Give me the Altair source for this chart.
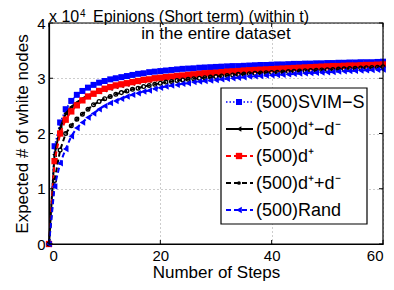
import altair as alt
import pandas as pd

# ---------------- data ----------------
steps = list(range(61))

svim_s = [0, 1.77, 2.20, 2.44, 2.59, 2.70, 2.77, 2.83, 2.88, 2.92, 2.95,
          2.98, 3.00, 3.02, 3.04, 3.06, 3.08, 3.09, 3.11, 3.12, 3.13,
          3.14, 3.15, 3.16, 3.17, 3.175, 3.18, 3.19, 3.195, 3.20, 3.205,
          3.21, 3.215, 3.22, 3.22, 3.225, 3.23, 3.235, 3.24, 3.24, 3.245,
          3.25, 3.25, 3.255, 3.26, 3.26, 3.265, 3.265, 3.27, 3.27, 3.275,
          3.275, 3.28, 3.28, 3.285, 3.285, 3.29, 3.29, 3.29, 3.295, 3.30]

d_plus_minus = [0, 1.62, 2.10, 2.36, 2.48, 2.56, 2.63, 2.68, 2.72, 2.76, 2.79,
                2.82, 2.85, 2.87, 2.89, 2.91, 2.93, 2.95, 2.96, 2.98, 2.99,
                3.00, 3.01, 3.02, 3.03, 3.04, 3.05, 3.06, 3.07, 3.08, 3.085,
                3.09, 3.10, 3.105, 3.11, 3.12, 3.125, 3.13, 3.135, 3.14, 3.15,
                3.155, 3.16, 3.165, 3.17, 3.175, 3.18, 3.185, 3.19, 3.195, 3.20,
                3.205, 3.21, 3.21, 3.215, 3.22, 3.225, 3.23, 3.23, 3.235, 3.24]

d_plus = [0, 1.50, 2.00, 2.25, 2.40, 2.51, 2.60, 2.67, 2.72, 2.77, 2.81,
          2.84, 2.87, 2.89, 2.91, 2.93, 2.95, 2.97, 2.98, 3.00, 3.01,
          3.02, 3.03, 3.04, 3.05, 3.06, 3.07, 3.08, 3.09, 3.095, 3.10,
          3.11, 3.12, 3.125, 3.13, 3.14, 3.145, 3.15, 3.155, 3.16, 3.165,
          3.17, 3.175, 3.18, 3.185, 3.19, 3.195, 3.20, 3.205, 3.21, 3.215,
          3.22, 3.22, 3.225, 3.23, 3.23, 3.235, 3.24, 3.24, 3.245, 3.25]

d_plus_plus = [0, 1.15, 1.70, 2.00, 2.14, 2.26, 2.35, 2.44, 2.52, 2.58, 2.63,
               2.67, 2.71, 2.74, 2.77, 2.80, 2.82, 2.85, 2.87, 2.89, 2.91,
               2.93, 2.94, 2.96, 2.97, 2.98, 2.99, 3.00, 3.01, 3.02, 3.03,
               3.04, 3.05, 3.06, 3.07, 3.075, 3.08, 3.09, 3.095, 3.10, 3.105,
               3.11, 3.115, 3.12, 3.125, 3.13, 3.135, 3.14, 3.145, 3.15, 3.155,
               3.16, 3.165, 3.17, 3.175, 3.18, 3.185, 3.19, 3.195, 3.20, 3.21]

rand = [0, 1.04, 1.46, 1.72, 1.95, 2.10, 2.20, 2.29, 2.36, 2.44, 2.50,
        2.55, 2.59, 2.63, 2.67, 2.70, 2.73, 2.76, 2.78, 2.81, 2.83,
        2.85, 2.87, 2.88, 2.90, 2.91, 2.93, 2.94, 2.95, 2.96, 2.97,
        2.98, 2.99, 3.00, 3.01, 3.02, 3.03, 3.035, 3.04, 3.05, 3.055,
        3.06, 3.065, 3.07, 3.08, 3.085, 3.09, 3.095, 3.10, 3.105, 3.11,
        3.115, 3.12, 3.125, 3.13, 3.135, 3.14, 3.145, 3.15, 3.155, 3.16]

series_labels = ["(500)SVIM\u2212S", "(500)d\u207a\u2212d\u207b", "(500)d\u207a",
                 "(500)d\u207a+d\u207b", "(500)Rand"]
series_values = [svim_s, d_plus_minus, d_plus, d_plus_plus, rand]

x_ticks = [0, 20, 40, 60]
y_ticks = [0, 1, 2, 3, 4]

title_main = "Epinions (Short term) (within t)"
title_sub = "in the entire dataset"
x_title = "Number of Steps"
y_title = "Expected # of white nodes"

# ---------------- styles ----------------
styles = [
    dict(color="#0000ff", dash=[1.5, 2], width=1.5, shape="square", filled=True, size=36),
    dict(color="#000000", dash=[1, 0], width=2, shape="triangle-left", filled=True, size=30),
    dict(color="#ff0000", dash=[5, 3], width=2, shape="square", filled=True, size=40),
    dict(color="#000000", dash=[5, 3], width=2, shape="circle", filled=False, size=14),
    dict(color="#0000ff", dash=[5, 3], width=2, shape="triangle-left", filled=True, size=42),
]

W, H = 334, 221
FONT = "Liberation Sans"

x_enc = alt.X("step:Q", scale=alt.Scale(domain=[0, 60], nice=False),
              axis=alt.Axis(values=x_ticks, title=x_title, labelPadding=4,
                            titlePadding=1, format="d"))
y_enc = alt.Y("value:Q", scale=alt.Scale(domain=[0, 4], nice=False),
              axis=alt.Axis(values=y_ticks, title=y_title, labelPadding=4,
                            titlePadding=5, format="d"))

layers = []
for name, vals, st in zip(series_labels, series_values, styles):
    df = pd.DataFrame({"step": steps, "value": vals, "series": name})
    layers.append(alt.Chart(df).mark_line(color=st["color"], strokeDash=st["dash"],
                                          strokeWidth=st["width"]).encode(x=x_enc, y=y_enc))
    layers.append(alt.Chart(df).mark_point(shape=st["shape"], filled=st["filled"],
                                           color=st["color"], size=st["size"],
                                           opacity=1, strokeWidth=1.3).encode(x=x_enc, y=y_enc))

# inward ticks (matlab style)
xt = pd.DataFrame({"step": x_ticks})
yt = pd.DataFrame({"value": y_ticks})
layers.append(alt.Chart(xt).mark_rule(color="black").encode(x=x_enc, y=alt.value(H), y2=alt.value(H - 4)))
layers.append(alt.Chart(xt).mark_rule(color="black").encode(x=x_enc, y=alt.value(0), y2=alt.value(4)))
layers.append(alt.Chart(yt).mark_rule(color="black").encode(y=y_enc, x=alt.value(0), x2=alt.value(4)))
layers.append(alt.Chart(yt).mark_rule(color="black").encode(y=y_enc, x=alt.value(W - 4), x2=alt.value(W)))

one = pd.DataFrame({"a": [0]})
# frame
layers.append(alt.Chart(one).mark_rect(fillOpacity=0, stroke="black", strokeWidth=1.2).encode(
    x=alt.value(0), x2=alt.value(W), y=alt.value(0), y2=alt.value(H)))

# legend box
layers.append(alt.Chart(one).mark_rect(fill="white", stroke="black", strokeWidth=1.2).encode(
    x=alt.value(172), x2=alt.value(318), y=alt.value(65), y2=alt.value(201)))
row_y = [79, 106, 133, 160, 187]
for name, st, ry in zip(series_labels, styles, row_y):
    layers.append(alt.Chart(one).mark_rule(color=st["color"], strokeDash=st["dash"],
                                           strokeWidth=st["width"]).encode(
        x=alt.value(177), x2=alt.value(204), y=alt.value(ry)))
    layers.append(alt.Chart(one).mark_point(shape=st["shape"], filled=True, color=st["color"],
                                            size=st["size"], opacity=1).encode(
        x=alt.value(190), y=alt.value(ry)))
    layers.append(alt.Chart(one).mark_text(align="left", baseline="middle", font=FONT,
                                           fontSize=18, color="black").encode(
        x=alt.value(207), y=alt.value(ry + 1), text=alt.value(name)))

# titles
layers.append(alt.Chart(one).mark_text(align="left", baseline="alphabetic", font=FONT,
                                       fontSize=16, color="black").encode(
    x=alt.value(0), y=alt.value(-1), text=alt.value("x 10")))
layers.append(alt.Chart(one).mark_text(align="left", baseline="alphabetic", font=FONT,
                                       fontSize=10, color="black").encode(
    x=alt.value(31), y=alt.value(-6), text=alt.value("4")))
layers.append(alt.Chart(one).mark_text(align="left", baseline="alphabetic", font=FONT,
                                       fontSize=16, color="black").encode(
    x=alt.value(44), y=alt.value(-1), text=alt.value(title_main)))
layers.append(alt.Chart(one).mark_text(align="center", baseline="alphabetic", font=FONT,
                                       fontSize=17, color="black").encode(
    x=alt.value(167), y=alt.value(16), text=alt.value(title_sub)))

chart = alt.layer(*layers).properties(
    width=W, height=H,
    autosize=alt.AutoSizeParams(type="none"),
    padding={"left": 41, "top": 15, "right": 3, "bottom": 38},
).configure_view(stroke=None).configure_axis(
    labelFont=FONT, labelFontSize=15, labelColor="black",
    titleFont=FONT, titleFontSize=17, titleFontWeight="normal", titleColor="black",
    domainColor="black", domainWidth=1.2, ticks=False,
    grid=True, gridColor="#9a9a9a", gridDash=[1, 3], gridWidth=1,
)

chart.save("out.html", embed_options={"renderer": "svg", "actions": False})
